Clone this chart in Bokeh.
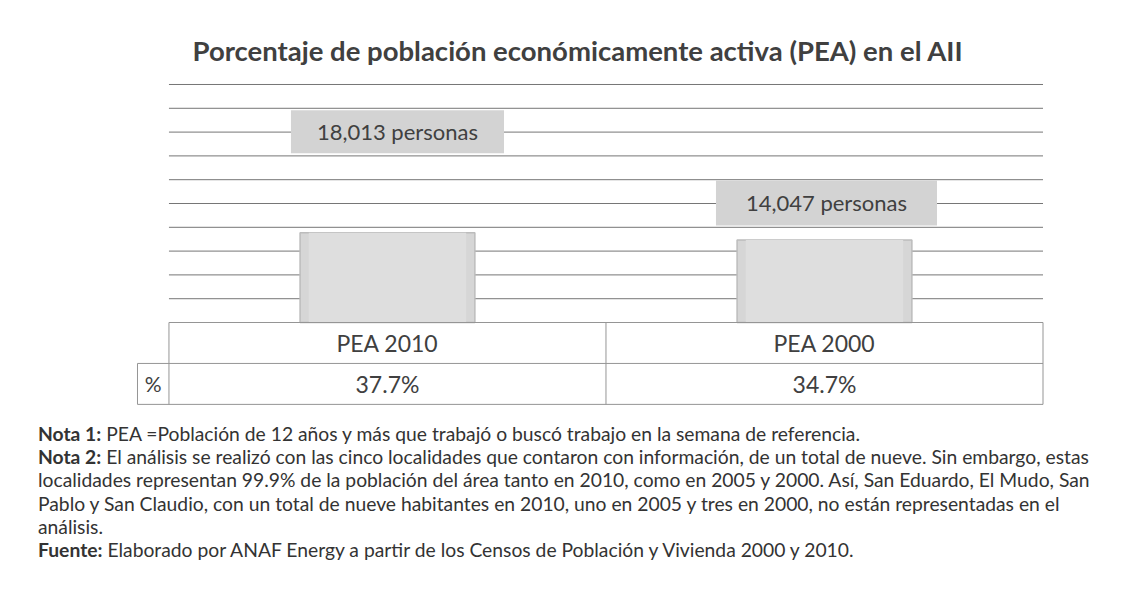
from bokeh.plotting import figure
from bokeh.models import Label, Div, ColumnDataSource, Range1d
from bokeh.layouts import column
from bokeh.core.properties import value
from bokeh.embed import file_html
from bokeh.resources import INLINE

# ---------------- data ----------------
categories = ["PEA 2010", "PEA 2000"]
pea_pct = [37.7, 34.7]
pea_persons = [18013, 14047]
row_label = "%"
grid_ticks = [10, 20, 30, 40, 50, 60, 70, 80, 90, 100]
title_text = "Porcentaje de población económicamente activa (PEA) en el AII"
note_lines = [
    ("Nota 1:", " PEA =Población de 12 años y más que trabajó o buscó trabajo en la semana de referencia."),
    ("Nota 2:", " El análisis se realizó con las cinco localidades que contaron con información, de un total de nueve. Sin embargo, estas"),
    ("", "localidades representan 99.9% de la población del área tanto en 2010, como en 2005 y 2000. Así, San Eduardo, El Mudo, San"),
    ("", "Pablo y San Claudio, con un total de nueve habitantes en 2010, uno en 2005 y tres en 2000, no están representadas en el"),
    ("", "análisis."),
    ("Fuente:", " Elaborado por ANAF Energy a partir de los Censos de Población y Vivienda 2000 y 2010."),
]

# ---------------- style ----------------
FONT = "Lato"
TXT = "#404040"
GRID = "#767676"
TABLE = "#959595"
BAR_FILL = "#d6d6d6"
BAR_INNER = "#dedede"
BAR_LINE = "#bcbcbc"
LABEL_BG = "#d3d3d3"
bar_width = 0.4
row_h = 17.2                       # table row height in y units
pct_col_w = 0.072                  # width of the "%" header cell in x units
label_offsets = [(10, 101), (2, 37)]  # data label box offsets (px)
label_pads = [(26, 8), (30, 9)]

xs = list(range(len(categories)))
x_lo, x_hi = -0.5, len(categories) - 0.5

p = figure(width=1131, height=408, output_backend="svg", toolbar_location=None,
           x_range=Range1d(-0.588, 1.508), y_range=Range1d(-35.29, 105.88),
           x_axis_location=None, y_axis_location=None,
           min_border_left=130, min_border_right=85, min_border_top=70, min_border_bottom=2,
           title=title_text)
p.outline_line_color = None
p.xgrid.visible = False
p.ygrid.visible = False
p.background_fill_color = "white"
p.border_fill_color = "white"

p.title.align = "left"
p.title.offset = 62
p.title.text_font = FONT
p.title.text_font_size = "27.5px"
p.title.text_font_style = "bold"
p.title.text_color = TXT
p.title.standoff = 8

# gridlines (from tick values)
p.segment(x0=[x_lo] * len(grid_ticks), x1=[x_hi] * len(grid_ticks),
          y0=grid_ticks, y1=grid_ticks, line_color=GRID, line_width=1)

# bars
src = ColumnDataSource(dict(x=xs, top=pea_pct, cat=categories,
                            pct=[f"{v:.1f}%" for v in pea_pct]))
p.vbar(x="x", top="top", bottom=0, width=bar_width, source=src,
       fill_color=BAR_FILL, line_color=BAR_LINE, line_width=1.5)
p.vbar(x="x", top="top", bottom=0, width=bar_width * 0.9, source=src,
       fill_color=BAR_INNER, line_color=None)

# data labels
for i, (v, n) in enumerate(zip(pea_pct, pea_persons)):
    dx, dy = label_offsets[i]
    p.add_layout(Label(x=xs[i], y=v, x_offset=dx, y_offset=dy,
                       text=f"{n:,} personas", text_align="center",
                       text_baseline="middle", text_font=FONT,
                       text_font_size="22px", text_color=TXT,
                       background_fill_color=LABEL_BG, padding=label_pads[i]))

# data table
left_pct = x_lo - pct_col_w
p.segment(x0=[x_lo, left_pct, left_pct], x1=[x_hi, x_hi, x_hi],
          y0=[0, -row_h, -2 * row_h], y1=[0, -row_h, -2 * row_h],
          line_color=TABLE, line_width=1)
vx = [x_lo] + [x + 0.5 for x in xs]
p.segment(x0=vx, x1=vx, y0=[0] * len(vx), y1=[-2 * row_h] * len(vx),
          line_color=TABLE, line_width=1)
p.segment(x0=[left_pct], x1=[left_pct], y0=[-row_h], y1=[-2 * row_h],
          line_color=TABLE, line_width=1)

p.text(x="x", y=-row_h / 2, text="cat", source=src, text_align="center",
       text_baseline="middle", text_font=value(FONT), text_font_size="23px",
       text_color=TXT)
p.text(x="x", y=-1.5 * row_h, text="pct", source=src, text_align="center",
       text_baseline="middle", text_font=value(FONT), text_font_size="23px",
       text_color=TXT)
p.text(x=[x_lo - pct_col_w / 2], y=[-1.5 * row_h], text=[row_label],
       text_align="center", text_baseline="middle", text_font=value(FONT),
       text_font_size="21px", text_color=TXT)

# notes
html_lines = []
for b, t in note_lines:
    html_lines.append((f"<b>{b}</b>" if b else "") + t)
notes = Div(text="<br>".join(html_lines), width=1131, height=180,
            styles={"font-family": "Lato", "font-size": "19.3px", "line-height": "23.2px",
                    "color": "#333333", "padding-top": "9px", "padding-left": "33px",
                    "white-space": "nowrap", "box-sizing": "border-box"})

layout = column(p, notes, spacing=0)
open("out.html", "w").write(file_html(layout, INLINE))
